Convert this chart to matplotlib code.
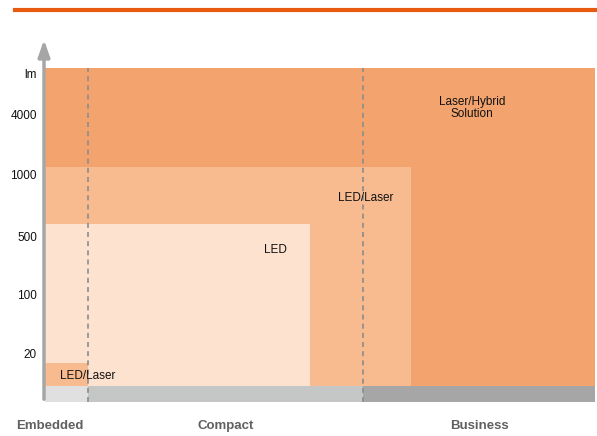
import matplotlib.pyplot as plt
from matplotlib.patches import Rectangle

plt.rcParams['font.family'] = ['Liberation Sans Narrow', 'Liberation Sans', 'DejaVu Sans']

# segments along the x axis (start, end) and their names
segments = ['Embedded', 'Compact', 'Business']
seg_edges = [0, 43, 318, 550]
seg_colors = ['#e0e0e0', '#c5c7c6', '#a6a6a6']
seg_label_x = [4.5, 181, 434]

# y axis levels (lumen scale, schematic)
level_labels = ['20', '100', '500', '1000', '4000', 'lm']
level_pos = [47, 106, 164, 226, 286, 327]

# technology regions: (label, x end, y top, colour, label pos)
regions = ['Laser/Hybrid\nSolution', 'LED/Laser', 'LED', 'LED/Laser']
region_xend = [550, 366, 265, 43]
region_ytop = [334, 235, 178, 39]
region_colors = ['#f3a46e', '#f8bb90', '#fde3cf', '#f8bb90']
label_x = [427, 321, 230, 43]
label_y = [294, 204, 152, 26]

bar_top = 16

fig = plt.figure(figsize=(5.97, 4.36), dpi=100)
ax = fig.add_axes([45 / 597, 34 / 436, 552 / 597, 334 / 436])
ax.set_xlim(0, 552)
ax.set_ylim(0, 334)

for xe, yt, c in zip(region_xend, region_ytop, region_colors):
    ax.add_patch(Rectangle((0, bar_top), xe, yt - bar_top, color=c, lw=0))

for i, c in enumerate(seg_colors):
    ax.add_patch(Rectangle((seg_edges[i], 0), seg_edges[i + 1] - seg_edges[i], bar_top, color=c, lw=0))

for xd in seg_edges[1:3]:
    ax.plot([xd, xd], [0, 334], ls=(0, (3, 2.5)), color='#8c8c8c', lw=1.2)

for lab, lx, ly in zip(regions, label_x, label_y):
    ax.text(lx, ly, lab, ha='center', va='center', fontsize=8.5, color='#111111', linespacing=1.0)

for name, sx in zip(segments, seg_label_x):
    ax.text(sx, -24, name, ha='center', va='center', fontsize=9.5,
            fontweight='bold', color='#606060')

for lab, yp in zip(level_labels, level_pos):
    ax.text(-8, yp, lab, ha='right', va='center', fontsize=8.5, color='#111111')

# vertical axis arrow
ax.annotate('', xy=(-1, 365), xytext=(-1, 0), annotation_clip=False,
            arrowprops=dict(arrowstyle='-|>,head_width=0.35,head_length=1.0', color='#a6a6a6', lw=2.5))

for s in ax.spines.values():
    s.set_visible(False)
ax.set_xticks([])
ax.set_yticks([])

# orange rule at the top
fig.add_artist(plt.Line2D([15 / 597, 1], [1 - 10 / 436, 1 - 10 / 436], color='#e85a0e', lw=3))

fig.savefig('out.png', dpi=100)
